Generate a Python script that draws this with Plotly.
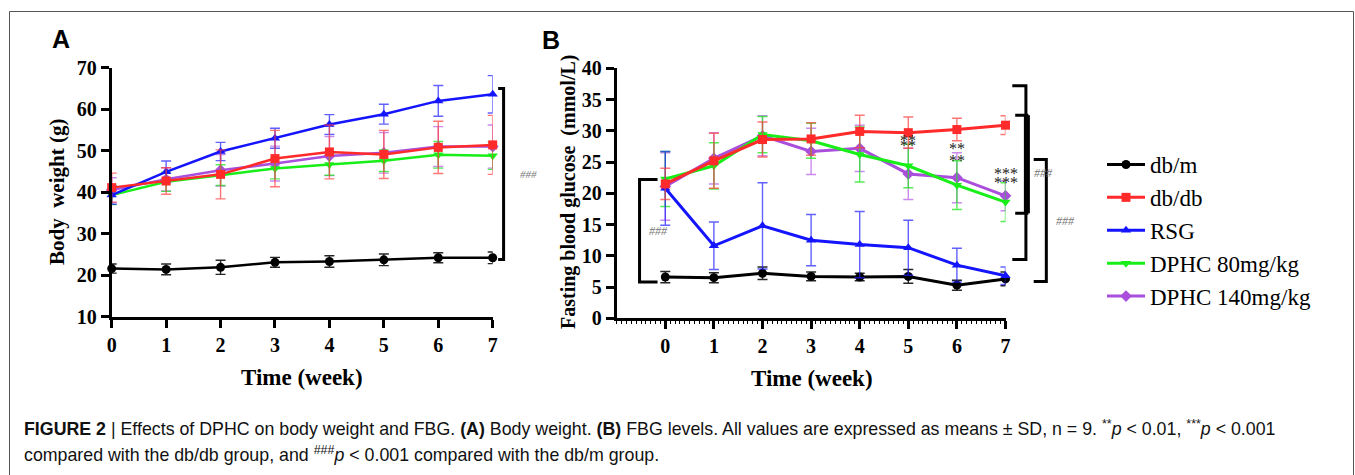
import plotly.graph_objects as go

W, H = 1355, 475

weeks = [0, 1, 2, 3, 4, 5, 6, 7]
groups = ["db/m", "db/db", "RSG", "DPHC 80mg/kg", "DPHC 140mg/kg"]
colors = ["#000000", "#ff2a2a", "#1414ff", "#18ee18", "#a94fdc"]
err_colors = ["rgba(0,0,0,0.85)", "rgba(255,60,60,0.7)", "rgba(30,30,255,0.7)",
              "rgba(30,230,30,0.75)", "rgba(180,90,230,0.7)"]
symbols = ["circle", "square", "triangle-up", "triangle-down", "diamond"]

# Panel A: body weight (g)
bw_dbm = [21.6, 21.4, 21.9, 23.1, 23.3, 23.7, 24.2, 24.2]
bw_dbm_sd = [1.1, 1.3, 1.7, 1.2, 1.4, 1.4, 1.2, 1.4]
bw_dbdb = [41.1, 42.7, 44.3, 48.1, 49.7, 49.1, 50.8, 51.4]
bw_dbdb_sd = [3.5, 3.2, 5.9, 6.8, 6.5, 5.8, 6.3, 7.1]
bw_rsg = [39.3, 44.9, 49.8, 53.0, 56.3, 58.8, 62.0, 63.6]
bw_rsg_sd = [2.2, 2.6, 2.2, 2.4, 2.4, 2.4, 3.7, 4.5]
bw_d80 = [39.3, 42.5, 44.1, 45.7, 46.7, 47.6, 49.0, 48.8]
bw_d80_sd = [2.3, 2.3, 2.5, 2.5, 2.6, 2.6, 3.2, 3.3]
bw_d140 = [40.5, 43.1, 45.3, 46.9, 48.7, 49.5, 51.0, 51.0]
bw_d140_sd = [3.0, 2.8, 3.8, 4.2, 4.7, 4.9, 4.8, 5.2]

# Panel B: fasting blood glucose (mmol/L)
fbg_dbm = [6.6, 6.5, 7.2, 6.7, 6.6, 6.7, 5.3, 6.3]
fbg_dbm_sd = [0.9, 0.8, 1.0, 0.7, 0.6, 1.1, 0.8, 1.1]
fbg_dbdb = [21.5, 25.2, 28.6, 28.7, 29.9, 29.7, 30.2, 30.9]
fbg_dbdb_sd = [2.5, 4.4, 2.8, 2.6, 2.6, 2.5, 1.8, 1.5]
fbg_rsg = [20.8, 11.6, 14.8, 12.5, 11.8, 11.3, 8.5, 6.8]
fbg_rsg_sd = [5.9, 3.8, 6.9, 4.1, 5.3, 4.4, 2.7, 1.4]
fbg_d80 = [22.3, 24.4, 29.4, 28.4, 26.2, 24.4, 21.3, 18.6]
fbg_d80_sd = [4.4, 3.7, 2.9, 2.8, 4.4, 3.5, 3.9, 3.1]
fbg_d140 = [21.1, 25.6, 29.2, 26.7, 27.2, 23.1, 22.5, 19.6]
fbg_d140_sd = [5.4, 4.1, 3.2, 3.7, 3.7, 4.1, 4.0, 2.4]

bw_means = [bw_dbm, bw_dbdb, bw_rsg, bw_d80, bw_d140]
bw_sds = [bw_dbm_sd, bw_dbdb_sd, bw_rsg_sd, bw_d80_sd, bw_d140_sd]
fbg_means = [fbg_dbm, fbg_dbdb, fbg_rsg, fbg_d80, fbg_d140]
fbg_sds = [fbg_dbm_sd, fbg_dbdb_sd, fbg_rsg_sd, fbg_d80_sd, fbg_d140_sd]

# significance labels (panel B, in data units)
star_x = [5, 5, 6, 6, 7, 7]
star_y = [28.5, 27.6, 27.2, 25.3, 23.2, 21.7]
star_txt = ["**", "**", "**", "**", "***", "***"]

# brackets: (x_vertical, x_stub, y_top, y_bottom, width) in data units
brackets_A = [(7.2, 7.1, 65.0, 23.8, 3)]
brackets_B = [(-0.53, -0.16, 22.2, 5.8, 3),
              (7.42, 7.14, 37.2, 9.4, 3),
              (7.44, 7.2, 32.5, 16.8, 6),
              (7.84, 7.58, 25.4, 5.9, 3)]
hash_A = [(7.65, 44.4)]
hash_B = [(-0.13, 14.0), (7.79, 23.2), (8.23, 15.5)]

# layout geometry (pixels)
A_px = (111.7, 492.7); A_py = (67.7, 316.7); A_xr = (0, 7); A_yr = (10, 70)
B_px = (616.7, 1005.5); B_py = (68.3, 318.3); B_xr = (-1, 7); B_yr = (0, 40)


def xdom(px):
    return [px[0] / W, px[1] / W]


def ydom(py):
    return [1 - py[1] / H, 1 - py[0] / H]


def to_paper(v, px, rng):
    d = xdom(px)
    return d[0] + (v - rng[0]) / (rng[1] - rng[0]) * (d[1] - d[0])


def to_paper_y(v, py, rng):
    d = ydom(py)
    return d[0] + (v - rng[0]) / (rng[1] - rng[0]) * (d[1] - d[0])


SERIF = "Liberation Serif, Times New Roman, serif"
fig = go.Figure()

draw_order = [0, 4, 3, 2, 1]
for i in draw_order:
    fig.add_trace(go.Scatter(
        x=weeks, y=bw_means[i], mode="lines+markers", name=groups[i],
        line=dict(color=colors[i], width=2.5),
        marker=dict(symbol=symbols[i], size=9, color=colors[i]),
        error_y=dict(type="data", array=bw_sds[i], color=err_colors[i], thickness=1.4, width=5),
        xaxis="x", yaxis="y", showlegend=False, cliponaxis=False, legendgroup=groups[i]))
for i in draw_order:
    fig.add_trace(go.Scatter(
        x=weeks, y=fbg_means[i], mode="lines+markers", name=groups[i],
        line=dict(color=colors[i], width=3),
        marker=dict(symbol=symbols[i], size=9, color=colors[i]),
        error_y=dict(type="data", array=fbg_sds[i], color=err_colors[i], thickness=1.4, width=5),
        xaxis="x2", yaxis="y2", showlegend=True, legendrank=i + 1, cliponaxis=False,
        legendgroup=groups[i]))

axis_common = dict(showline=True, linecolor="black", linewidth=3, ticks="outside",
                   ticklen=8, tickwidth=3, tickcolor="black", showgrid=False, zeroline=False,
                   automargin=False,
                   tickfont=dict(family=SERIF, size=20, color="black"))

fig.update_layout(
    template="none",
    width=W, height=H, margin=dict(l=0, r=0, t=0, b=0, pad=0, autoexpand=False),
    paper_bgcolor="white", plot_bgcolor="white",
    font=dict(family=SERIF, color="black"),
    xaxis=dict(domain=xdom(A_px), range=A_xr, tickvals=weeks, anchor="y",
               ticktext=[f"<b>{w}</b>" for w in weeks], **axis_common),
    yaxis=dict(domain=ydom(A_py), range=A_yr, anchor="x",
               tickvals=[10, 20, 30, 40, 50, 60, 70],
               ticktext=[f"<b>{v}</b>" for v in [10, 20, 30, 40, 50, 60, 70]], **axis_common),
    xaxis2=dict(domain=xdom(B_px), range=B_xr, tickvals=weeks, anchor="y2",
                ticktext=[f"<b>{w}</b>" for w in weeks],
                minor=dict(ticks="outside", ticklen=3, tickwidth=1, tickcolor="black",
                           tickvals=[k / 10 for k in range(-10, 71)]),
                **axis_common),
    yaxis2=dict(domain=ydom(B_py), range=B_yr, anchor="x2",
                tickvals=[0, 5, 10, 15, 20, 25, 30, 35, 40],
                ticktext=[f"<b>{v}</b>" for v in [0, 5, 10, 15, 20, 25, 30, 35, 40]],
                **axis_common),
    legend=dict(x=1102 / W, y=1 - 143 / H, xanchor="left", yanchor="top",
                font=dict(family=SERIF, size=23, color="black"),
                traceorder="grouped", tracegroupgap=0, itemwidth=38,
                bgcolor="rgba(0,0,0,0)", borderwidth=0),
)

shapes = []
for (xv, xs, yt, yb, wd) in brackets_A:
    X = to_paper(xv, A_px, A_xr); XS = to_paper(xs, A_px, A_xr)
    YT = to_paper_y(yt, A_py, A_yr); YB = to_paper_y(yb, A_py, A_yr)
    shapes.append(dict(type="path", xref="paper", yref="paper",
                       path=f"M{XS},{YT} L{X},{YT} L{X},{YB} L{XS},{YB}",
                       line=dict(color="black", width=wd)))
for (xv, xs, yt, yb, wd) in brackets_B:
    X = to_paper(xv, B_px, B_xr); XS = to_paper(xs, B_px, B_xr)
    YT = to_paper_y(yt, B_py, B_yr); YB = to_paper_y(yb, B_py, B_yr)
    shapes.append(dict(type="path", xref="paper", yref="paper",
                       path=f"M{XS},{YT} L{X},{YT} L{X},{YB} L{XS},{YB}",
                       line=dict(color="black", width=min(wd, 3))))
    if wd > 3:
        shapes.append(dict(type="line", xref="paper", yref="paper", x0=X, x1=X, y0=YT, y1=YB,
                           line=dict(color="black", width=wd)))
# outer frame
shapes.append(dict(type="rect", xref="paper", yref="paper", x0=9.5 / W, x1=1353.5 / W,
                   y0=-0.02, y1=1 - 11.5 / H, line=dict(color="#555", width=1)))
fig.update_layout(shapes=shapes)


def note(text, px, py, size, family=SERIF, color="black", angle=0, xanchor="center"):
    return dict(text=text, x=px / W, y=1 - py / H, xref="paper", yref="paper",
                xanchor=xanchor, yanchor="middle", textangle=angle, showarrow=False,
                font=dict(family=family, size=size, color=color))


SANS = "Liberation Sans, Arial, sans-serif"
ann = []
ann.append(note("<b>A</b>", 61, 39, 25, family=SANS))
ann.append(note("<b>B</b>", 551, 40, 25, family=SANS))
ann.append(note("<b>Body  weight (g)</b>", 57, 192, 21, angle=-90))
ann.append(note("<b>Time (week)</b>", 302, 377, 23))
ann.append(note("<b>Fasting blood glucose  (mmol/L)</b>", 568, 192, 20, angle=-90))
ann.append(note("<b>Time (week)</b>", 812, 378, 23))
# stars
for sx, sy, st in zip(star_x, star_y, star_txt):
    ann.append(dict(text=st, x=sx, y=sy, xref="x2", yref="y2", showarrow=False,
                    xanchor="center", yanchor="middle",
                    font=dict(family=SERIF, size=16, color="#222")))
# hashes
for hx, hy in hash_A:
    ann.append(dict(text="<i>###</i>", x=to_paper(hx, A_px, A_xr), y=to_paper_y(hy, A_py, A_yr),
                    xref="paper", yref="paper", showarrow=False, xanchor="center", yanchor="middle",
                    font=dict(family=SERIF, size=11, color="#777")))
for hx, hy in hash_B:
    ann.append(dict(text="<i>###</i>", x=to_paper(hx, B_px, B_xr), y=to_paper_y(hy, B_py, B_yr),
                    xref="paper", yref="paper", showarrow=False, xanchor="center", yanchor="middle",
                    font=dict(family=SERIF, size=12, color="#777")))
# caption
line1 = ("<b>FIGURE 2</b> | Effects of DPHC on body weight and FBG. <b>(A)</b> Body weight. "
         "<b>(B)</b> FBG levels. All values are expressed as means ± SD, n = 9. "
         "<sup>**</sup><i>p</i> &lt; 0.01, <sup>***</sup><i>p</i> &lt; 0.001")
line2 = ("compared with the db/db group, and <sup>###</sup><i>p</i> &lt; 0.001 "
         "compared with the db/m group.")
ann.append(note(line1, 22, 428, 17.8, family=SANS, color="#111", xanchor="left"))
ann.append(note(line2, 22, 454, 17.8, family=SANS, color="#111", xanchor="left"))
fig.update_layout(annotations=ann)

fig.write_html("out.html", config={"displayModeBar": False},
               post_script="document.body.style.margin='0';")
